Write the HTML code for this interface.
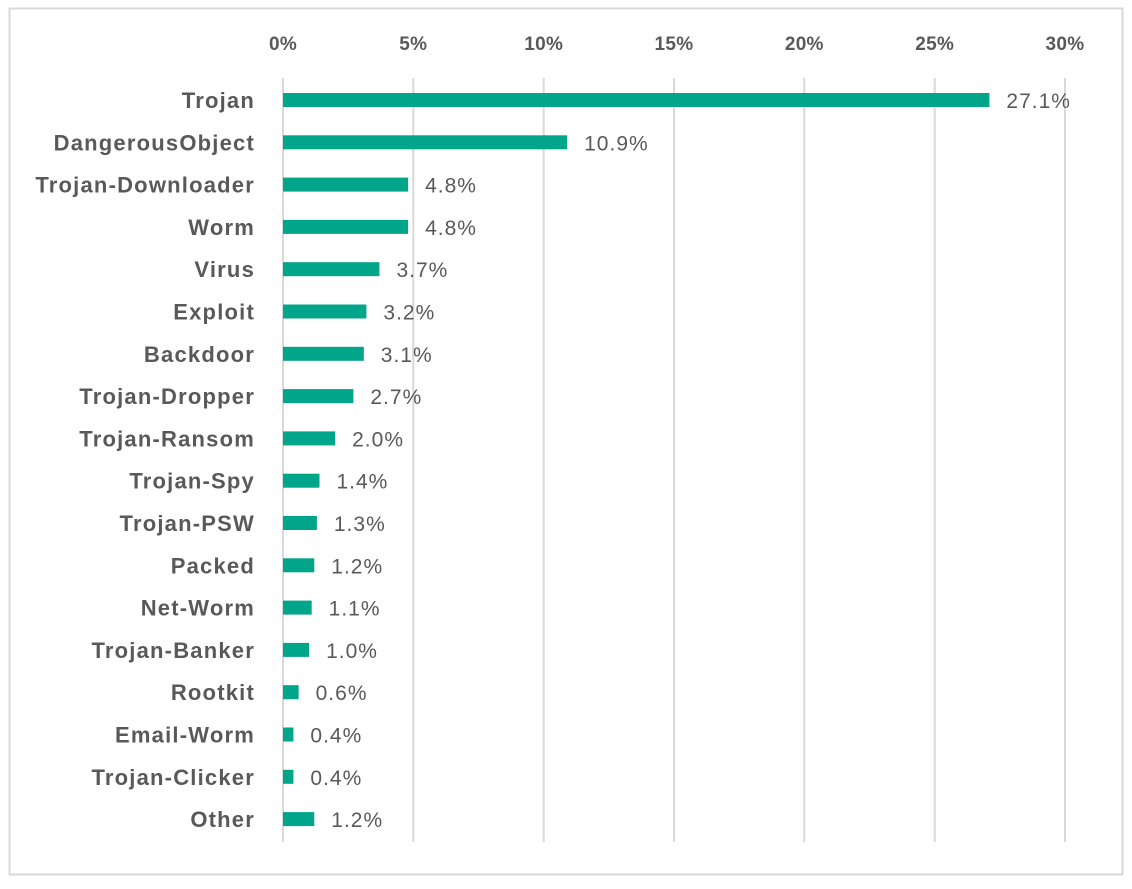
<!DOCTYPE html>
<html><head><meta charset="utf-8"><style>
html,body{margin:0;padding:0;background:#fff;}
svg{display:block;}
text{font-family:"Liberation Sans",sans-serif;fill:#595959;font-size:19px;}
</style></head><body>
<svg width="1132" height="889" viewBox="0 0 1132 889">
<rect x="9.5" y="8.5" width="1113" height="866" fill="#fff" stroke="#d9d9d9" stroke-width="2"/>
<g stroke="#d9d9d9" stroke-width="2">
<line x1="283" y1="78" x2="283" y2="842"/>
<line x1="413.3" y1="78" x2="413.3" y2="842"/>
<line x1="543.7" y1="78" x2="543.7" y2="842"/>
<line x1="674" y1="78" x2="674" y2="842"/>
<line x1="804.3" y1="78" x2="804.3" y2="842"/>
<line x1="934.7" y1="78" x2="934.7" y2="842"/>
<line x1="1065" y1="78" x2="1065" y2="842"/>
</g>
<g text-anchor="middle" style="font-size:21px;letter-spacing:0.3px;font-weight:bold">
<text x="283" y="50">0%</text><text x="413.3" y="50">5%</text><text x="543.7" y="50">10%</text>
<text x="674" y="50">15%</text><text x="804.3" y="50">20%</text><text x="934.7" y="50">25%</text><text x="1065" y="50">30%</text>
</g>
<g id="bars"></g>
</svg>
<script>
var d=[["Trojan",27.1],["DangerousObject",10.9],["Trojan-Downloader",4.8],["Worm",4.8],["Virus",3.7],["Exploit",3.2],["Backdoor",3.1],["Trojan-Dropper",2.7],["Trojan-Ransom",2.0],["Trojan-Spy",1.4],["Trojan-PSW",1.3],["Packed",1.2],["Net-Worm",1.1],["Trojan-Banker",1.0],["Rootkit",0.6],["Email-Worm",0.4],["Trojan-Clicker",0.4],["Other",1.2]];
var g=document.getElementById("bars"),s="";
d.forEach(function(r,i){var y=100+i*42.3,w=r[1]*26.067;
s+='<rect x="283" y="'+(y-7)+'" width="'+w+'" height="14" fill="#00a58a"/>';
s+='<text x="255" y="'+(y+8)+'" text-anchor="end" font-weight="bold" style="font-size:22px;letter-spacing:1.2px">'+r[0]+'</text>';
s+='<text x="'+(283+w+17)+'" y="'+(y+8)+'" style="font-size:21px;letter-spacing:1px">'+r[1].toFixed(1)+'%</text>';});
g.innerHTML=s;
</script>
</body></html>
